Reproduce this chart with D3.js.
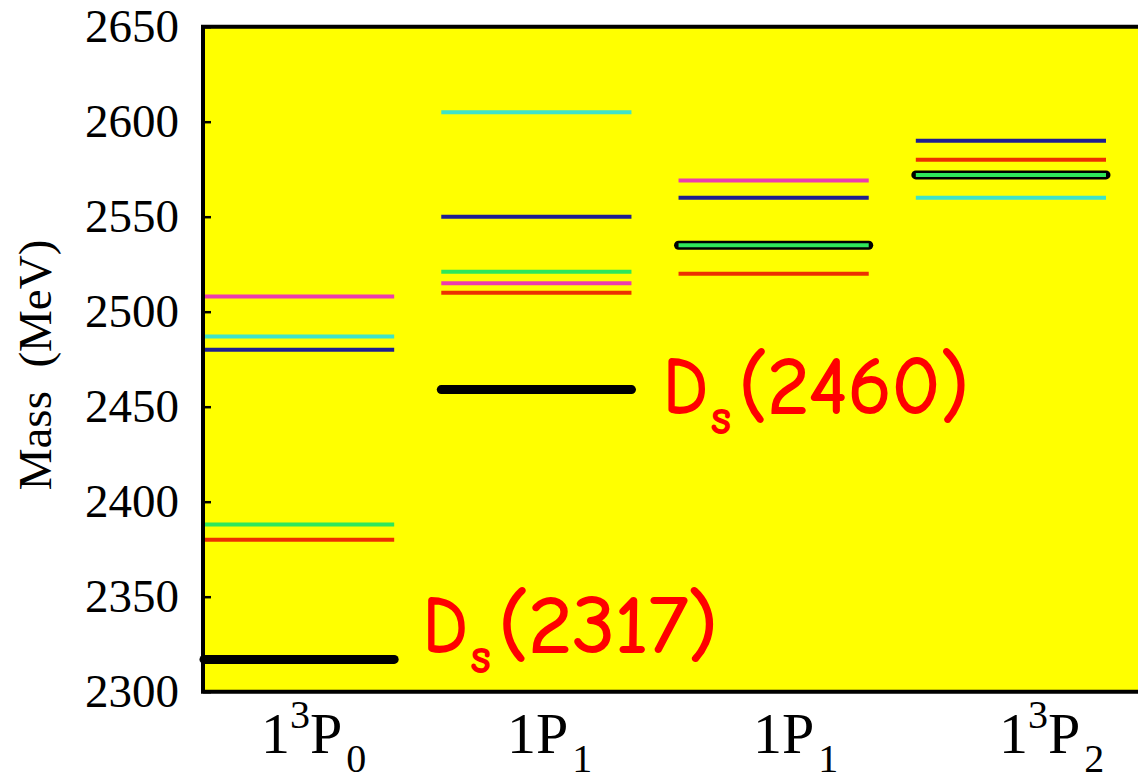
<!DOCTYPE html>
<html>
<head>
<meta charset="utf-8">
<script src="https://cdn.jsdelivr.net/npm/d3@7"></script>
<style>
  html, body { margin: 0; padding: 0; background: #ffffff; }
  svg { display: block; }
</style>
</head>
<body>
<svg id="chart" width="1138" height="784"></svg>
<script>
// ---- data ----
const categories = ["1³P₀", "1P₁", "1P₁'", "1³P₂"];
const catParts = [
  [["1", "n"], ["3", "sup"], ["P", "n"], ["0", "sub"]],
  [["1P", "n"], ["1", "sub"]],
  [["1P", "n"], ["1", "sub"]],
  [["1", "n"], ["3", "sup"], ["P", "n"], ["2", "sub"]]
];
const yTicks = [2300, 2350, 2400, 2450, 2500, 2550, 2600, 2650];
const experiment = [2317, 2459, 2535, 2572];
const expLabels = ["2317", "2460", null, null];
const magentaVals = [2508, 2515, 2569, null];
const cyanVals    = [2487, 2605, null, 2560];
const navyVals    = [2480, 2550, 2560, 2590];
const greenVals   = [2388, 2521, 2535, 2572];
const redVals     = [2380, 2510, 2520, 2580];

const series = [
  { name: "magenta", color: "#ec3cae", values: magentaVals },
  { name: "cyan",    color: "#3fe3c8", values: cyanVals },
  { name: "navy",    color: "#1e1e90", values: navyVals },
  { name: "red",     color: "#ec3000", values: redVals },
  { name: "green",   color: "#2ee85a", values: greenVals }
];

// ---- scales ----
const svg = d3.select("#chart");
const plotLeft = 203, plotTop = 26.7, plotBottom = 691.7, plotRight = 1150;
const y = d3.scaleLinear().domain([2300, 2650]).range([plotBottom, plotTop]);
const x = d3.scaleBand().domain(d3.range(categories.length))
  .range([203, 1107]).paddingInner(0.19).paddingOuter(0).align(0);
const xLabel = d3.scalePoint().domain(d3.range(categories.length)).range([261, 999]);
const serif = "'Liberation Serif', 'Times New Roman', Times, serif";

// background
svg.append("rect")
  .attr("x", plotLeft).attr("y", plotTop)
  .attr("width", plotRight - plotLeft).attr("height", plotBottom - plotTop)
  .attr("fill", "#ffff00");

// experiment lines (thick black)
svg.append("g").selectAll("line")
  .data(experiment.map((v, i) => ({ v, i })))
  .join("line")
  .attr("x1", d => x(d.i) + 1)
  .attr("x2", d => x(d.i) + x.bandwidth() - 1)
  .attr("y1", d => y(d.v)).attr("y2", d => y(d.v))
  .attr("stroke", "#000").attr("stroke-width", 9)
  .attr("stroke-linecap", "round");

// model lines
series.forEach(s => {
  svg.append("g").selectAll("line")
    .data(s.values.map((v, i) => ({ v, i })).filter(d => d.v != null))
    .join("line")
    .attr("x1", d => x(d.i) + 1)
    .attr("x2", d => x(d.i) + x.bandwidth() - 1)
    .attr("y1", d => y(d.v)).attr("y2", d => y(d.v))
    .attr("stroke", s.color).attr("stroke-width", 4);
});

// frame (left, top, bottom)
svg.append("path")
  .attr("d", `M${plotRight},${plotTop} H${plotLeft} V${plotBottom} H${plotRight}`)
  .attr("fill", "none").attr("stroke", "#000").attr("stroke-width", 4);

// y axis
const yAxis = d3.axisLeft(y).tickValues(yTicks).tickFormat(d3.format("d"))
  .tickSize(-8).tickPadding(24);
const gy = svg.append("g").attr("transform", `translate(${plotLeft},0)`).call(yAxis);
gy.attr("font-family", null).attr("font-size", null);
gy.select(".domain").remove();
gy.selectAll(".tick line").attr("stroke", "#000").attr("stroke-width", 2.5);
gy.selectAll(".tick text")
  .style("font-family", serif)
  .style("font-size", "47px").attr("fill", "#000");

// y axis title
svg.append("text")
  .attr("transform", "translate(51,365) rotate(-90)")
  .attr("text-anchor", "middle")
  .style("font-family", serif)
  .style("font-size", "47px").attr("fill", "#000")
  .text("Mass\u00a0\u00a0(MeV)");

// category labels
catParts.forEach((parts, i) => {
  const t = svg.append("text")
    .attr("x", xLabel(i)).attr("y", 753)
    .style("font-family", serif)
    .attr("fill", "#000");
  let state = "n";
  const off = { n: 0, sup: -25, sub: 19 };
  parts.forEach(([txt, kind]) => {
    const dy = off[kind] - off[state];
    state = kind;
    t.append("tspan")
      .attr("dy", dy)
      .attr("dx", kind === "sub" ? 4 : 0)
      .style("font-size", kind === "n" ? "58px" : "40px")
      .text(txt);
  });
});

// experimental state labels
const labelOffsets = [{ dx: 28, dy: -7, w: 294 }, { dx: 31, dy: 23, w: 305 }];
expLabels.forEach((lab, i) => {
  if (!lab) return;
  const o = labelOffsets[i];
  const x0 = x(i) + x.bandwidth() + o.dx;
  const y0 = y(experiment[i]) + o.dy;
  const t = svg.append("text")
    .attr("x", x0).attr("y", y0)
    .style("font-family", "'Comic Sans MS', 'Comic Neue', 'DejaVu Sans', sans-serif")
    .attr("fill", "#ff0000").attr("stroke", "#ff0000").attr("stroke-width", 2);
  t.append("tspan").attr("x", x0).style("font-size", "80px")
    .attr("textLength", 44).attr("lengthAdjust", "spacingAndGlyphs").text("D");
  t.append("tspan").attr("x", x0 + 48).attr("dy", 20).style("font-size", "46px").text("s");
  t.append("tspan").attr("x", x0 + 76).attr("dy", -20).style("font-size", "80px")
    .attr("textLength", o.w - 76).attr("lengthAdjust", "spacingAndGlyphs")
    .text("(" + lab + ")");
});
</script>
</body>
</html>
